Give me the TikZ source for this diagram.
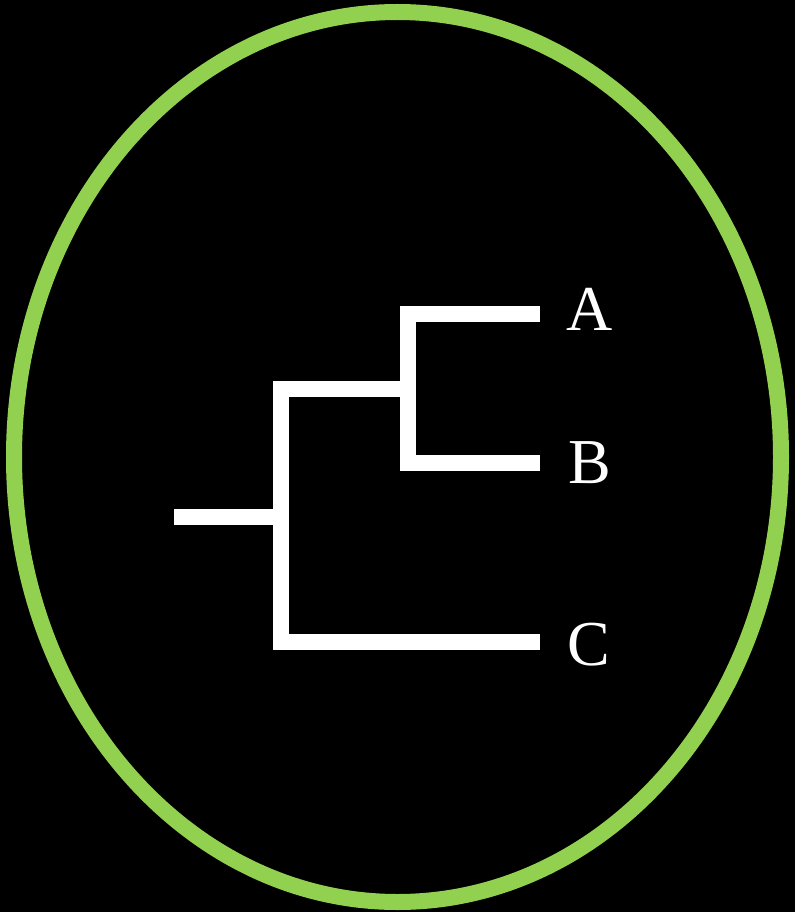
\documentclass[tikz,border=0pt]{standalone}
\usepackage{fontspec}
\setmainfont{Liberation Serif}
\definecolor{ringgreen}{HTML}{92D050}
\tikzset{
  branch/.style={draw=white, line width=16pt, line cap=butt, line join=miter},
  leaflabel/.style={text=white, font=\fontsize{64}{64}\selectfont, inner sep=0pt, anchor=base west}
}
\begin{document}
\begin{tikzpicture}[x=1pt,y=-1pt]
\fill[black] (0,0) rectangle (795,912);
\useasboundingbox (0,0) rectangle (795,912);
\draw[ringgreen, line width=16pt] (397.5,457) ellipse [x radius=383.5, y radius=445];
% tree coordinates
\coordinate (root) at (174,517);
\coordinate (n1) at (281,517);
\coordinate (n1top) at (281,389);
\coordinate (n1bot) at (281,641.5);
\coordinate (n2) at (408,389);
\coordinate (n2top) at (408,314);
\coordinate (n2bot) at (408,463);
\coordinate (tA) at (540,314);
\coordinate (tB) at (540,463);
\coordinate (tC) at (540,641.5);
\draw[branch] (tA) -- (n2top) -- (n2bot) -- (tB);
\draw[branch] (n2) -- (n1top) -- (n1bot) -- (tC);
\draw[branch] (root) -- (n1);
\node[leaflabel] (A) at (566,330) {A};
\node[leaflabel] (B) at (568,483) {B};
\node[leaflabel] (C) at (567,665) {C};
\end{tikzpicture}
\end{document}
